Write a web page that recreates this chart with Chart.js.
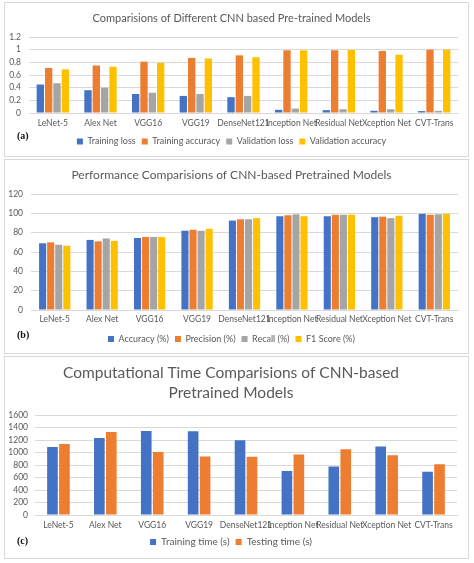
<!DOCTYPE html>
<html>
<head>
<meta charset="utf-8">
<script src="https://cdn.jsdelivr.net/npm/chart.js@4.4.1/dist/chart.umd.min.js"></script>
<style>
  body { margin: 0; background: #fff; width: 474px; height: 563px; position: relative; overflow: hidden; }
  .panel { position: absolute; left: 4px; width: 463px; border: 1px solid #d9d9d9; background: #fff; }
  .panel canvas { position: absolute; left: 0; top: 0; }
  .tag { position: absolute; left: 17px; font: bold 10px "Liberation Serif", serif; color: #111; }
</style>
</head>
<body>
<div class="panel" style="top:2px;height:153px"><canvas id="chartA" width="463" height="153"></canvas></div>
<div class="panel" style="top:159px;height:193px"><canvas id="chartB" width="463" height="193"></canvas></div>
<div class="panel" style="top:356px;height:201px"><canvas id="chartC" width="463" height="201"></canvas></div>
<div class="tag" style="top:130px">(a)</div>
<div class="tag" style="top:329px">(b)</div>
<div class="tag" style="top:535px">(c)</div>

<script>
// models on the x axis (same for all three charts)
const models = ["LeNet-5", "Alex Net", "VGG16", "VGG19", "DenseNet121", "Inception Net", "Residual Net", "Xception Net", "CVT-Trans"];

// (a) loss / accuracy
const trainLoss = [0.45, 0.36, 0.30, 0.27, 0.25, 0.05, 0.045, 0.035, 0.03];
const trainAcc  = [0.71, 0.75, 0.81, 0.87, 0.91, 0.99, 0.99, 0.98, 1.0];
const valLoss   = [0.47, 0.40, 0.32, 0.30, 0.27, 0.07, 0.06, 0.06, 0.035];
const valAcc    = [0.69, 0.73, 0.79, 0.86, 0.88, 0.99, 0.995, 0.92, 1.0];

// (b) performance (%)
const accuracy  = [69, 72.5, 74.5, 82, 92.5, 97, 97, 96, 99.5];
const precision = [70, 71, 75.5, 83, 94, 98, 98.5, 96.5, 98.5];
const recall    = [67.5, 74, 75.5, 82, 94, 99, 98.5, 95, 99];
const f1Score   = [66.5, 71.5, 75.5, 84, 95, 97, 98.5, 97.5, 99.5];

// (c) computational time (s)
const trainTime = [1090, 1235, 1350, 1345, 1200, 705, 780, 1100, 695];
const testTime  = [1140, 1330, 1010, 940, 935, 970, 1055, 960, 815];

const BLUE = "#4472C4", ORANGE = "#ED7D31", GRAY = "#A5A5A5", GOLD = "#FFC000";
const TXT = "#595959", GRID = "#D9D9D9";
const FONT = "Lato, 'Open Sans', sans-serif";

Chart.defaults.font.family = FONT;
Chart.defaults.color = TXT;
Chart.defaults.animation = false;

function barChart(id, cfg) {
  new Chart(document.getElementById(id), {
    type: "bar",
    data: {
      labels: models,
      datasets: cfg.series.map(s => ({
        label: s.label,
        data: s.data,
        backgroundColor: s.color,
        categoryPercentage: cfg.catPct,
        barPercentage: cfg.barPct
      }))
    },
    options: {
      responsive: false,
      devicePixelRatio: 1,
      layout: { padding: { left: 0, right: cfg.padRight, top: 0, bottom: cfg.padBottom } },
      plugins: {
        title: {
          display: true,
          text: cfg.title,
          color: TXT,
          font: { size: cfg.titleSize, weight: "normal", lineHeight: cfg.titleLH || 1.2 },
          padding: { top: cfg.titleTop, bottom: cfg.titleBottom }
        },
        legend: {
          position: "bottom",
          labels: { boxWidth: 6, boxHeight: 6, padding: 6, font: { size: cfg.legendSize }, color: TXT }
        },
        tooltip: { enabled: false }
      },
      scales: {
        x: {
          grid: { display: false, drawTicks: false },
          border: { color: GRID },
          ticks: { autoSkip: false, maxRotation: 0, minRotation: 0, padding: cfg.xPad, font: { size: 8.5 }, color: TXT },
          afterFit: s => { s.height = cfg.xHeight; }
        },
        y: {
          min: 0,
          max: cfg.yMax,
          grid: { color: GRID, drawTicks: false },
          border: { display: false },
          ticks: { autoSkip: false, stepSize: cfg.yStep, padding: cfg.yPad, font: { size: 8.5 }, color: TXT, callback: v => String(+v.toFixed(1)) },
          afterFit: s => { s.width = cfg.yWidth; }
        }
      }
    }
  });
}

barChart("chartA", {
  title: "Comparisions of Different CNN based Pre-trained Models",
  titleSize: 11, titleTop: 8.4, titleBottom: 12.4,
  series: [
    { label: "Training loss", data: trainLoss, color: BLUE },
    { label: "Training accuracy", data: trainAcc, color: ORANGE },
    { label: "Validation loss", data: valLoss, color: GRAY },
    { label: "Validation accuracy", data: valAcc, color: GOLD }
  ],
  catPct: 0.7, barPct: 0.88,
  yMax: 1.2, yStep: 0.2, yWidth: 24, yPad: 8, padRight: 10,
  xHeight: 18, xPad: 5.6, padBottom: 0, legendSize: 9
});

barChart("chartB", {
  title: "Performance Comparisions of CNN-based Pretrained Models",
  titleSize: 12, titleTop: 7.8, titleBottom: 11.8,
  series: [
    { label: "Accuracy (%)", data: accuracy, color: BLUE },
    { label: "Precision (%)", data: precision, color: ORANGE },
    { label: "Recall (%)", data: recall, color: GRAY },
    { label: "F1 Score (%)", data: f1Score, color: GOLD }
  ],
  catPct: 0.68, barPct: 0.88,
  yMax: 120, yStep: 20, yWidth: 26, yPad: 8, padRight: 10,
  xHeight: 18.5, xPad: 4.6, padBottom: -0.5, legendSize: 9
});

barChart("chartC", {
  title: ["Computational Time Comparisions of CNN-based", "Pretrained Models"],
  titleSize: 15.5, titleLH: 1.3, titleTop: 6, titleBottom: 12,
  series: [
    { label: "Training time (s)", data: trainTime, color: BLUE },
    { label: "Testing time (s)", data: testTime, color: ORANGE }
  ],
  catPct: 0.51, barPct: 0.89,
  yMax: 1600, yStep: 200, yWidth: 30, yPad: 7, padRight: 11,
  xHeight: 16, xPad: 5.6, padBottom: 1, legendSize: 10
});
</script>
</body>
</html>
